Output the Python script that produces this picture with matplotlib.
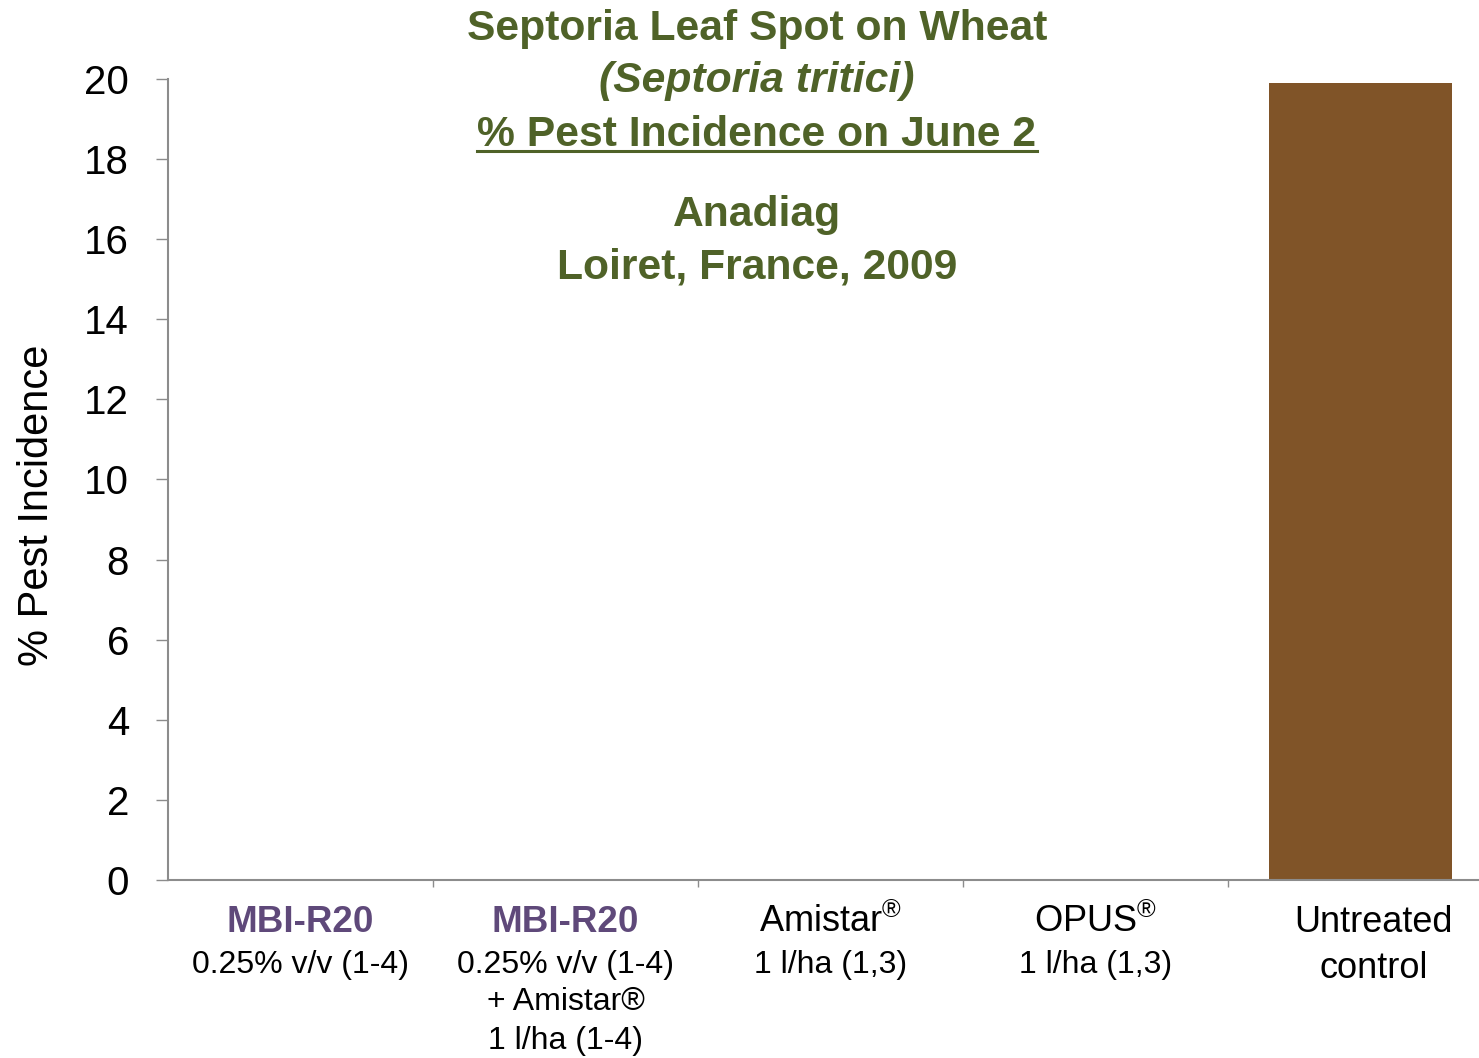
import numpy as np
import matplotlib
matplotlib.use('Agg')
import matplotlib.pyplot as plt
from matplotlib.transforms import blended_transform_factory
from matplotlib.lines import Line2D

plt.rcParams['font.family'] = ['Liberation Sans', 'DejaVu Sans']
plt.rcParams['mathtext.fontset'] = 'custom'
plt.rcParams['mathtext.rm'] = 'Liberation Sans'

# Daten
treatments = ['MBI-R20', 'MBI-R20', 'Amistar$^{®}$', 'OPUS$^{®}$', 'Untreated']
bold_first = [True, True, False, False, False]
sub_lines = [
    ['0.25% v/v (1-4)'],
    ['0.25% v/v (1-4)', '+ Amistar®', '1 l/ha (1-4)'],
    ['1 l/ha (1,3)'],
    ['1 l/ha (1,3)'],
    ['control'],
]
incidence = [0.0, 0.0, 0.0, 0.0, 19.9]
yticks = [0, 2, 4, 6, 8, 10, 12, 14, 16, 18, 20]

green = '#4F6228'
purple = '#5F497A'
brown = '#805428'
gray = '#8C8C8C'

W, H = 1479, 1058
fig = plt.figure(figsize=(W / 100, H / 100), dpi=100)
ax = fig.add_axes([168 / W, 1 - 880 / H, 1 - 168 / W, (880 - 79) / H])

x = np.arange(len(incidence))
ax.bar(x, incidence, width=0.69, color=brown)

ax.set_xlim(-0.5, 4.447)
ax.set_ylim(0, 20)
ax.set_yticks(yticks)
ax.tick_params(axis='y', labelsize=29, length=9, width=1, color=gray, pad=19)
ax.set_xticks([])
ax.set_xticks(x[:-1] + 0.5, minor=True)
ax.tick_params(axis='x', which='minor', length=5, width=1, color=gray, labelbottom=False)
for s in ['top', 'right']:
    ax.spines[s].set_visible(False)
for s in ['left', 'bottom']:
    ax.spines[s].set_color(gray)
    ax.spines[s].set_linewidth(1.5)
ax.set_ylabel('% Pest Incidence', fontsize=30)
ax.yaxis.set_label_coords(-0.085, 0.468)

# Kategorie-Beschriftungen
tr = blended_transform_factory(ax.transData, fig.transFigure)
line_y = [922, 965, 1002, 1041]
for i, name in enumerate(treatments):
    xi = x[i] + (0.05 if i == 4 else 0)
    if bold_first[i]:
        ax.text(xi, 1 - line_y[0] / H, name, transform=tr, ha='center', va='center',
                fontsize=26.5, fontweight='bold', color=purple)
    else:
        ax.text(xi, 1 - line_y[0] / H, name, transform=tr, ha='center', va='center',
                fontsize=26, color='black')
    for j, s in enumerate(sub_lines[i]):
        fs = 26 if i == 4 else 23
        yy = 968 if i == 4 else line_y[j + 1]
        ax.text(xi, 1 - yy / H, s, transform=tr, ha='center', va='center',
                fontsize=fs, color='black')

# Titel
cx = 757 / W
fs_t = 30.7
fig.text(cx, 1 - 29 / H, 'Septoria Leaf Spot on Wheat', ha='center', va='center',
         fontsize=fs_t, fontweight='bold', color=green)
fig.text(cx, 1 - 81 / H, '(Septoria tritici)', ha='center', va='center',
         fontsize=fs_t, fontweight='bold', style='italic', color=green)
t3 = fig.text(cx, 1 - 146 / H, '% Pest Incidence on June 2', ha='center', va='baseline',
              fontsize=fs_t, fontweight='bold', color=green)
fig.text(cx, 1 - 215 / H, 'Anadiag', ha='center', va='center',
         fontsize=fs_t, fontweight='bold', color=green)
fig.text(cx, 1 - 267 / H, 'Loiret, France, 2009', ha='center', va='center',
         fontsize=fs_t, fontweight='bold', color=green)

# Unterstreichung
fig.canvas.draw()
bb = t3.get_window_extent().transformed(fig.transFigure.inverted())
fig.add_artist(Line2D([bb.x0, bb.x1], [1 - 151 / H, 1 - 151 / H], color=green, lw=2.2,
                      transform=fig.transFigure))

fig.savefig('out.png', dpi=100)
